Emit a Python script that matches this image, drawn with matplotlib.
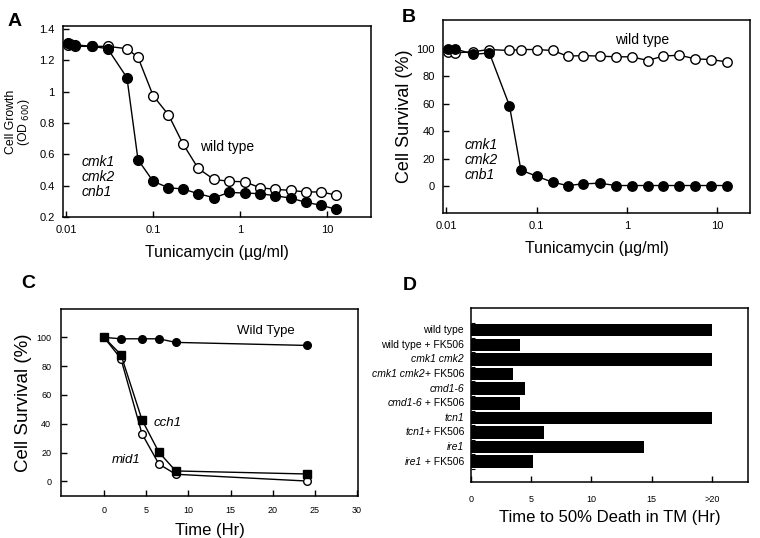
import matplotlib
matplotlib.use("Agg")
import matplotlib.pyplot as plt
import numpy as np

plt.rcParams['font.family'] = ['Liberation Sans', 'DejaVu Sans']
plt.rcParams['axes.linewidth'] = 1.1

# ---------------- data ----------------
# Panel A / B : tunicamycin concentration (ug/ml)
tm_conc = [0.0104, 0.0125, 0.02, 0.03, 0.05, 0.067, 0.1, 0.15, 0.22, 0.33,
           0.5, 0.75, 1.13, 1.7, 2.5, 3.8, 5.7, 8.5, 12.8]
tm_conc_mut = [0.0104, 0.0112, 0.0125, 0.02, 0.03, 0.05, 0.067, 0.1, 0.15, 0.22, 0.33,
               0.5, 0.75, 1.13, 1.7, 2.5, 3.8, 5.7, 8.5, 12.8]
growth_wt = [1.30, 1.29, 1.29, 1.29, 1.275, 1.22, 0.975, 0.853, 0.668, 0.51,
             0.44, 0.428, 0.425, 0.387, 0.377, 0.37, 0.36, 0.36, 0.34]
growth_mut = [1.31, 1.305, 1.30, 1.29, 1.275, 1.09, 0.566, 0.428, 0.387, 0.379, 0.349,
              0.323, 0.357, 0.353, 0.349, 0.336, 0.321, 0.294, 0.275, 0.249]
surv_wt = [98, 97, 98, 99.5, 98.8, 99.5, 99.5, 98.8, 94.7, 95.1,
           94.7, 94.2, 94.2, 91.5, 94.7, 95.4, 92.7, 92.2, 90.5]
surv_mut = [100, 100, 96, 97, 58.7, 11.7, 7.3, 2.9, 0.5, 1.7,
            2.2, 0.5, 0.5, 0.5, 0.5, 0.5, 0.5, 0.5, 0.5]

# Panel C : time course
time_hr = [0, 2, 4.5, 6.5, 8.5, 24]
surv_c_wt = [100, 99, 99, 99, 96.5, 94.4]
surv_c_cch1 = [100, 88, 42.7, 20.2, 7.2, 5.1]
surv_c_mid1 = [100, 85.2, 33, 12, 4.9, 0.2]

# Panel D : time to 50% death
strains = ['wild type', 'wild type + FK506', 'cmk1 cmk2', 'cmk1 cmk2+ FK506',
           'cmd1-6', 'cmd1-6 + FK506', 'tcn1', 'tcn1+ FK506', 'ire1', 'ire1 + FK506']
strains_italic = ['', '', 'cmk1 cmk2', 'cmk1 cmk2', 'cmd1-6', 'cmd1-6',
                  'tcn1', 'tcn1', 'ire1', 'ire1']
death_time = [20, 4.05, 20, 3.5, 4.47, 4.05, 20, 6.07, 14.35, 5.16]
d_ticks = [0, 5, 10, 15, 20]
d_ticklabels = ['0', '5', '10', '15', '>20']

W, H = 760, 538
fig = plt.figure(figsize=(W / 100, H / 100), dpi=100)


def rect(l, t, r, b):
    return [l / W, 1 - b / H, (r - l) / W, (b - t) / H]


def fig_text(x, y, s, **kw):
    fig.text(x / W, 1 - y / H, s, **kw)


lw = 1.0
# ---------------- Panel A ----------------
axA = fig.add_axes(rect(63, 26, 371, 217))
axA.plot(tm_conc, growth_wt, '-o', color='black', mfc='white', mec='black',
         ms=7, lw=lw, mew=1.0, zorder=3)
axA.plot(tm_conc_mut, growth_mut, '-o', color='black', mfc='black', mec='black',
         ms=7, lw=lw, zorder=4)
axA.set_xscale('log')
axA.set_xlim(0.0092, 32)
axA.set_ylim(0.2, 1.42)
axA.set_xticks([0.01, 0.1, 1, 10])
axA.set_xticklabels(['0.01', '0.1', '1', '10'])
axA.set_yticks([0.2, 0.4, 0.6, 0.8, 1.0, 1.2, 1.4])
axA.set_yticklabels(['0.2', '0.4', '0.6', '0.8', '1', '1.2', '1.4'])
axA.minorticks_off()
axA.tick_params(direction='in', length=4, labelsize=8, pad=6, width=1)
axA.set_ylabel('Cell Growth\n(OD $_{600}$)', fontsize=8.8, linespacing=0.95, labelpad=5)
axA.set_xlabel('Tunicamycin (µg/ml)', fontsize=11.5, labelpad=7)
fig_text(200, 147, 'wild type', fontsize=10, va='center')
fig_text(82, 177, 'cmk1\ncmk2\ncnb1', fontsize=10, style='italic',
         linespacing=1.05, va='center')

# ---------------- Panel B ----------------
axB = fig.add_axes(rect(443, 20, 750, 213))
axB.plot(tm_conc, surv_wt, '-o', color='black', mfc='white', mec='black',
         ms=6.8, lw=lw, mew=1.0, zorder=3)
axB.plot(tm_conc, surv_mut, '-o', color='black', mfc='black', mec='black',
         ms=6.8, lw=lw, zorder=4)
axB.set_xscale('log')
axB.set_xlim(0.0092, 23)
axB.set_ylim(-19.5, 121)
axB.set_xticks([0.01, 0.1, 1, 10])
axB.set_xticklabels(['0.01', '0.1', '1', '10'])
axB.set_yticks([0, 20, 40, 60, 80, 100])
axB.minorticks_off()
axB.tick_params(direction='in', length=4, labelsize=8, pad=6, width=1)
axB.set_ylabel('Cell Survival (%)', fontsize=13, labelpad=2)
axB.set_xlabel('Tunicamycin (µg/ml)', fontsize=11.5, labelpad=7)
fig_text(615, 40, 'wild type', fontsize=10, va='center')
fig_text(465, 160, 'cmk1\ncmk2\ncnb1', fontsize=10, style='italic',
         linespacing=1.05, va='center')

# ---------------- Panel C ----------------
axC = fig.add_axes(rect(61, 309, 358, 496))
axC.plot(time_hr, surv_c_wt, '-o', color='black', mfc='black', ms=5.5, lw=lw, zorder=3)
axC.plot(time_hr, surv_c_mid1, '-o', color='black', mfc='white', mec='black',
         ms=5.5, lw=lw, mew=1.0, zorder=3)
axC.plot(time_hr, surv_c_cch1, '-s', color='black', mfc='black', ms=5.2, lw=lw, zorder=4)
axC.set_xlim(-5.1, 30.1)
axC.set_ylim(-10.2, 119.7)
axC.set_xticks([0, 5, 10, 15, 20, 25, 30])
axC.set_yticks([0, 20, 40, 60, 80, 100])
axC.tick_params(direction='in', length=4, labelsize=6.5, pad=7, width=1)
axC.set_ylabel('Cell Survival (%)', fontsize=13.5, labelpad=3)
axC.set_xlabel('Time (Hr)', fontsize=12, labelpad=6)
fig_text(237, 331, 'Wild Type', fontsize=9.5, va='center')
fig_text(154, 423, 'cch1', fontsize=9.5, style='italic', va='center')
fig_text(112, 460, 'mid1', fontsize=9.5, style='italic', va='center')

# ---------------- Panel D ----------------
axD = fig.add_axes(rect(471, 308, 748, 482))
ypos = np.arange(len(strains))
axD.barh(ypos, death_time, height=0.86, color='black')
axD.set_ylim(len(strains) - 1 + 1.39, -1.52)
axD.set_xlim(0, 23)
axD.set_xticks(d_ticks)
axD.set_xticklabels(d_ticklabels)
axD.set_yticks([])
axD.set_yticks(np.arange(len(strains) + 1) - 0.5, minor=True)
axD.tick_params(axis='y', which='minor', direction='in', length=3, width=0.8, labelleft=False)
axD.tick_params(axis='x', direction='in', length=4, labelsize=6.5, pad=9, width=1)
axD.set_xlabel('Time to 50% Death in TM (Hr)', fontsize=12, labelpad=5)

fig.canvas.draw()
renderer = fig.canvas.get_renderer()
for i, (full, ital) in enumerate(zip(strains, strains_italic)):
    normal = full[len(ital):]
    off = -5
    if normal:
        t = axD.annotate(normal, xy=(0, i), xycoords=('axes fraction', 'data'),
                         xytext=(off, 0), textcoords='offset points',
                         ha='right', va='center', fontsize=7.5)
        w = t.get_window_extent(renderer).width * 72 / fig.dpi
        off = off - w
    if ital:
        axD.annotate(ital, xy=(0, i), xycoords=('axes fraction', 'data'),
                     xytext=(off, 0), textcoords='offset points',
                     ha='right', va='center', fontsize=7.5, style='italic')

# panel letters
fig_text(15, 22, 'A', fontsize=14, fontweight='bold', ha='center', va='center')
fig_text(409, 17, 'B', fontsize=14, fontweight='bold', ha='center', va='center')
fig_text(28, 284, 'C', fontsize=14, fontweight='bold', ha='center', va='center')
fig_text(410, 285, 'D', fontsize=14, fontweight='bold', ha='center', va='center')

fig.savefig('out.png', dpi=100)
